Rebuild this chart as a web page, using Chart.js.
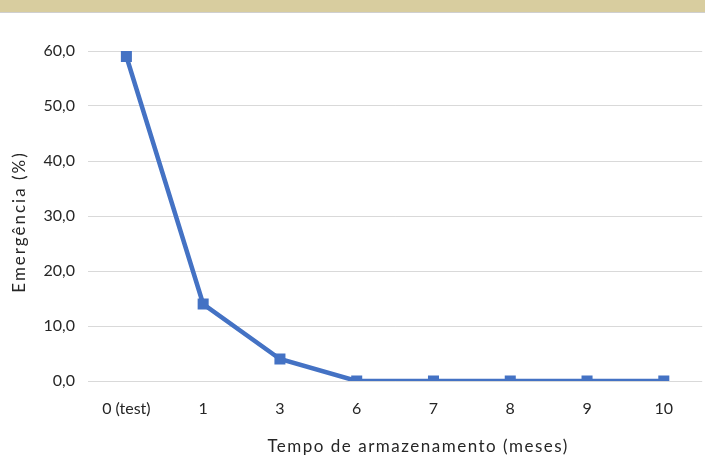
<!DOCTYPE html>
<html>
<head>
<meta charset="utf-8">
<script src="https://cdn.jsdelivr.net/npm/chart.js@4"></script>
<style>
    html, body { margin: 0; padding: 0; background: #ffffff; overflow: hidden; width: 705px; height: 461px; }
    .band { height: 12px; background: #d8cd9f; border-bottom: 1px solid #cfcfcf; }
    .wrap { position: relative; width: 710px; height: 448px; }
</style>
</head>
<body>
<div class="band"></div>
<div class="wrap"><canvas id="emergenciaChart" width="710" height="448"></canvas></div>
<script>
/* =========================
    Data
========================= */
const categorias = ['0 (test)', '1', '3', '6', '7', '8', '9', '10'];
const emergencia = [59.0, 14.0, 4.0, 0.0, 0.0, 0.0, 0.0, 0.0];
const yMin = 0;
const yMax = 60;
const yStep = 10;

const tituloX = 'Tempo de armazenamento (meses)';
const tituloY = 'Emergência (%)';

const corLinha = '#4472c4';
const corTexto = '#262626';
const fonte = 'Lato, "Noto Sans", sans-serif';

/* =========================
    Titulos: espacamento das letras + pequeno deslocamento (estilo Excel)
========================= */
const ajusteTitulos = {
    id: 'ajusteTitulos',
    beforeDraw(chart) {
        const cfg = {
            x: { espaco: '1.5px', dx: 23, dy: 0 },
            y: { espaco: '2px', dx: 0, dy: 6 }
        };
        Object.keys(cfg).forEach(id => {
            const scale = chart.scales[id];
            if (!scale || scale._ajusteOk) return;
            const original = scale.drawTitle.bind(scale);
            scale.drawTitle = function () {
                const c = this.ctx;
                c.save();
                c.translate(cfg[id].dx, cfg[id].dy);
                c.letterSpacing = cfg[id].espaco;
                original();
                c.restore();
            };
            scale._ajusteOk = true;
        });
    }
};

/* =========================
    Chart
========================= */
const ctx = document.getElementById('emergenciaChart').getContext('2d');
new Chart(ctx, {
    type: 'line',
    data: {
        labels: categorias,
        datasets: [{
            label: tituloY,
            data: emergencia,
            borderColor: corLinha,
            backgroundColor: corLinha,
            borderWidth: 4.5,
            tension: 0,
            pointStyle: 'rect',
            pointRadius: 7.8,
            pointBorderWidth: 0,
            pointBackgroundColor: corLinha
        }]
    },
    options: {
        responsive: false,
        animation: false,
        layout: { padding: { top: 38, left: 0, right: 0, bottom: 0 } },
        plugins: { legend: { display: false }, tooltip: { enabled: false } },
        scales: {
            x: {
                offset: true,
                grid: { display: false, drawTicks: false },
                border: { display: false },
                ticks: { color: corTexto, font: { family: fonte, size: 16 }, padding: 18, maxRotation: 0 },
                title: { display: true, text: tituloX, color: corTexto, font: { family: fonte, size: 17 }, padding: { top: 0, bottom: 4 } },
                afterFit: (scale) => { scale.height = 80; }
            },
            y: {
                min: yMin,
                max: yMax,
                grid: { color: '#d9d9d9', lineWidth: 1, drawTicks: false },
                border: { display: false },
                ticks: {
                    stepSize: yStep,
                    color: corTexto,
                    font: { family: fonte, size: 16 },
                    padding: 13,
                    callback: (v) => v.toFixed(1).replace('.', ',')
                },
                title: { display: true, text: tituloY, color: corTexto, font: { family: fonte, size: 17 }, padding: { top: 9, bottom: 0 } },
                afterFit: (scale) => { scale.width = 88; }
            }
        }
    },
    plugins: [ajusteTitulos]
});
</script>
</body>
</html>
